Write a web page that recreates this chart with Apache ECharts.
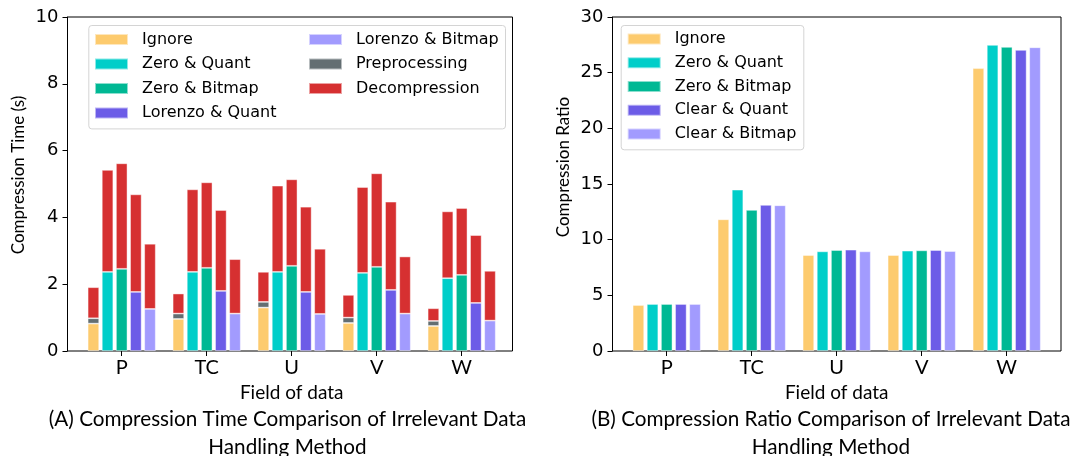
<!DOCTYPE html>
<html>
<head>
<meta charset="utf-8">
<script src="https://cdn.jsdelivr.net/npm/echarts@6/dist/echarts.min.js"></script>
<style>
  html, body { margin: 0; padding: 0; background: #fff; }
  #chart { width: 1073px; height: 456px; }
</style>
</head>
<body>
<div id="chart"></div>
<script>
// Fields on the x axis
const fields = ['P', 'TC', 'U', 'V', 'W'];

// (A) Compression time in seconds — method part of each bar
const timeIgnore        = [0.82, 0.96, 1.30, 0.84, 0.75];
const timePreprocessing = [0.16, 0.16, 0.17, 0.16, 0.15];
const timeZeroQuant     = [2.37, 2.37, 2.37, 2.34, 2.18];
const timeZeroBitmap    = [2.46, 2.49, 2.55, 2.52, 2.28];
const timeLorenzoQuant  = [1.77, 1.80, 1.77, 1.83, 1.44];
const timeLorenzoBitmap = [1.26, 1.12, 1.11, 1.12, 0.91];

// (A) Decompression time stacked on top of each method
const decompIgnore        = [0.93, 0.60, 0.90, 0.68, 0.38];
const decompZeroQuant     = [3.05, 2.47, 2.58, 2.57, 2.00];
const decompZeroBitmap    = [3.16, 2.56, 2.59, 2.80, 2.00];
const decompLorenzoQuant  = [2.92, 2.42, 2.55, 2.64, 2.03];
const decompLorenzoBitmap = [1.95, 1.63, 1.95, 1.71, 1.49];

// (B) Compression ratio
const ratioIgnore      = [4.13, 11.83, 8.62, 8.62, 25.40];
const ratioZeroQuant   = [4.22, 14.49, 8.95, 9.01, 27.49];
const ratioZeroBitmap  = [4.22, 12.67, 9.07, 9.04, 27.31];
const ratioClearQuant  = [4.22, 13.12, 9.10, 9.07, 27.04];
const ratioClearBitmap = [4.22, 13.09, 8.95, 8.98, 27.28];

const timeTicks  = { min: 0, max: 10, interval: 2 };
const ratioTicks = { min: 0, max: 30, interval: 5 };

const COLORS = {
  'Ignore': '#FDCB6E',
  'Zero & Quant': '#00CEC9',
  'Zero & Bitmap': '#00B894',
  'Lorenzo & Quant': '#6C5CE7',
  'Lorenzo & Bitmap': '#A29BFE',
  'Clear & Quant': '#6C5CE7',
  'Clear & Bitmap': '#A29BFE',
  'Preprocessing': '#636E72',
  'Decompression': '#D63031'
};

const LABEL_FONT = 'Lato, "Open Sans", sans-serif';
const TICK_FONT = '"DejaVu Sans", sans-serif';
const BAR_W = 11.5;
const BAR_GAP = '23%';

function bar(name, data, xi, yi, stack) {
  return {
    type: 'bar', name, data, xAxisIndex: xi, yAxisIndex: yi, stack,
    barWidth: BAR_W, barGap: BAR_GAP,
    itemStyle: { color: COLORS[name], borderColor: 'rgba(255,255,255,0.55)', borderWidth: 0.8 },
    emphasis: { disabled: true }
  };
}

const series = [
  // (A) stacked bars: one stack per handling method
  bar('Ignore', timeIgnore, 1, 1, 'ig'),
  bar('Zero & Quant', timeZeroQuant, 1, 1, 'zq'),
  bar('Zero & Bitmap', timeZeroBitmap, 1, 1, 'zb'),
  bar('Lorenzo & Quant', timeLorenzoQuant, 1, 1, 'lq'),
  bar('Lorenzo & Bitmap', timeLorenzoBitmap, 1, 1, 'lb'),
  bar('Preprocessing', timePreprocessing, 1, 1, 'ig'),
  bar('Decompression', decompIgnore, 1, 1, 'ig'),
  bar('Decompression', decompZeroQuant, 1, 1, 'zq'),
  bar('Decompression', decompZeroBitmap, 1, 1, 'zb'),
  bar('Decompression', decompLorenzoQuant, 1, 1, 'lq'),
  bar('Decompression', decompLorenzoBitmap, 1, 1, 'lb'),
  // (B) grouped bars
  bar('Ignore', ratioIgnore, 3, 3),
  bar('Zero & Quant', ratioZeroQuant, 3, 3),
  bar('Zero & Bitmap', ratioZeroBitmap, 3, 3),
  bar('Clear & Quant', ratioClearQuant, 3, 3),
  bar('Clear & Bitmap', ratioClearBitmap, 3, 3)
];

const legendText = {
  fontFamily: TICK_FONT, fontSize: 16, color: '#000', lineHeight: 16, padding: [0, 0, 0, 9]
};
function legend(data, left, top, gap) {
  return {
    data, left, top, orient: 'vertical', itemGap: gap, padding: 0,
    icon: 'rect', itemWidth: 33, itemHeight: 11, selectedMode: false,
    textStyle: legendText
  };
}

function frameY(gridIndex, ticks) {
  return {
    type: 'value', gridIndex, ...ticks,
    axisLine: { show: true, lineStyle: { color: '#000', width: 1 } },
    axisTick: { show: true, inside: false, length: 5, lineStyle: { color: '#000' } },
    axisLabel: { fontFamily: TICK_FONT, fontSize: 18, color: '#000', margin: 9 },
    splitLine: { show: false }
  };
}
function barX(gridIndex) {
  return {
    type: 'category', gridIndex, data: fields,
    name: 'Field of data', nameLocation: 'middle', nameGap: 31,
    nameTextStyle: { fontFamily: LABEL_FONT, fontSize: 19, color: '#000' },
    axisLine: { show: false },
    axisTick: { show: true, alignWithLabel: true, length: 5, lineStyle: { color: '#000' } },
    axisLabel: { fontFamily: LABEL_FONT, fontSize: 20, color: '#000', margin: 7 },
    splitLine: { show: false }
  };
}
function yName(text, x, y) {
  return {
    type: 'text', x, y, rotation: Math.PI / 2, z: 5,
    style: { text, fill: '#000', font: '17px Lato, "Open Sans", sans-serif',
             textAlign: 'center', textVerticalAlign: 'middle' }
  };
}

const captionStyle = { fontFamily: LABEL_FONT, fontSize: 20.7, fontWeight: 'normal', lineHeight: 28, color: '#000' };

const option = {
  animation: false,
  backgroundColor: '#fff',
  grid: [
    { left: 67.5, top: 17, width: 445, height: 334, show: true, borderColor: '#000', borderWidth: 1, backgroundColor: 'transparent' },
    { left: 79.2, top: 17, width: 425, height: 334 },
    { left: 612.5, top: 17, width: 448.5, height: 334, show: true, borderColor: '#000', borderWidth: 1, backgroundColor: 'transparent' },
    { left: 624.2, top: 17, width: 425, height: 334 }
  ],
  xAxis: [
    { type: 'value', gridIndex: 0, show: false },
    barX(1),
    { type: 'value', gridIndex: 2, show: false },
    barX(3)
  ],
  yAxis: [
    frameY(0, timeTicks),
    { type: 'value', gridIndex: 1, show: false, ...timeTicks },
    frameY(2, ratioTicks),
    { type: 'value', gridIndex: 3, show: false, ...ratioTicks }
  ],
  legend: [
    legend(['Ignore', 'Zero & Quant', 'Zero & Bitmap', 'Lorenzo & Quant'], 94, 31.5, 8.5),
    legend(['Lorenzo & Bitmap', 'Preprocessing', 'Decompression'], 308, 31.5, 8.5),
    legend(['Ignore', 'Zero & Quant', 'Zero & Bitmap', 'Clear & Quant', 'Clear & Bitmap'], 626.7, 31, 7.75)
  ],
  graphic: [
    { type: 'rect', left: 88.3, top: 25, z: 1,
      shape: { width: 416.7, height: 103.4, r: 3 },
      style: { fill: 'rgba(255,255,255,0.85)', stroke: '#d4d4d4', lineWidth: 1 } },
    { type: 'rect', left: 620.7, top: 25, z: 1,
      shape: { width: 182.6, height: 124.3, r: 3 },
      style: { fill: 'rgba(255,255,255,0.85)', stroke: '#d4d4d4', lineWidth: 1 } },
    yName('Compression Time (s)', 18.5, 175),
    yName('Compression Ratio', 564, 167)
  ],
  title: [
    { text: '(A) Compression Time Comparison of Irrelevant Data\nHandling Method',
      left: 282.5, top: 400, textAlign: 'center', textStyle: captionStyle },
    { text: '(B) Compression Ratio Comparison of Irrelevant Data\nHandling Method',
      left: 826, top: 400, textAlign: 'center', textStyle: captionStyle }
  ],
  series
};

const chart = echarts.init(document.getElementById('chart'), null, { renderer: 'canvas' });
chart.setOption(option);
</script>
</body>
</html>
